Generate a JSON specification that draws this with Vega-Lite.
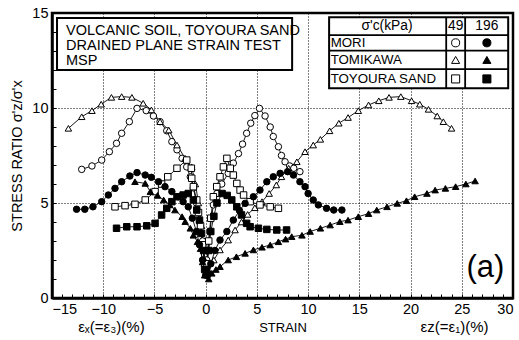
{
  "$schema": "https://vega.github.io/schema/vega-lite/v6.json",
  "width": 461,
  "height": 285,
  "autosize": {"type": "none"},
  "padding": {"left": 52, "top": 13, "right": 6, "bottom": 42},
  "background": "white",
  "config": {
    "view": {"stroke": "black", "strokeWidth": 2.5},
    "font": "Liberation Sans",
    "text": {"font": "Liberation Sans", "color": "black"}
  },
  "datasets": {
    "pts": [
      {"m":"MORI","p":"49","b":"L","i":0,"x":-0.1,"y":2.0},{"m":"MORI","p":"49","b":"L","i":1,"x":-0.3,"y":3.0},{"m":"MORI","p":"49","b":"L","i":2,"x":-0.6,"y":4.0},{"m":"MORI","p":"49","b":"L","i":3,"x":-0.9,"y":5.0},{"m":"MORI","p":"49","b":"L","i":4,"x":-1.2,"y":5.8},{"m":"MORI","p":"49","b":"L","i":5,"x":-1.5,"y":6.38},{"m":"MORI","p":"49","b":"L","i":6,"x":-1.85,"y":6.9},{"m":"MORI","p":"49","b":"L","i":7,"x":-2.3,"y":7.35},{"m":"MORI","p":"49","b":"L","i":8,"x":-2.8,"y":7.8},{"m":"MORI","p":"49","b":"L","i":9,"x":-3.3,"y":8.23},{"m":"MORI","p":"49","b":"L","i":10,"x":-3.8,"y":8.8},{"m":"MORI","p":"49","b":"L","i":11,"x":-4.45,"y":9.28},{"m":"MORI","p":"49","b":"L","i":12,"x":-5.1,"y":9.58},{"m":"MORI","p":"49","b":"L","i":13,"x":-5.8,"y":9.86},{"m":"MORI","p":"49","b":"L","i":14,"x":-6.7,"y":9.98},{"m":"MORI","p":"49","b":"L","i":15,"x":-7.45,"y":9.28},{"m":"MORI","p":"49","b":"L","i":16,"x":-8.2,"y":8.67},{"m":"MORI","p":"49","b":"L","i":17,"x":-8.7,"y":8.14},{"m":"MORI","p":"49","b":"L","i":18,"x":-9.4,"y":7.7},{"m":"MORI","p":"49","b":"L","i":19,"x":-10.15,"y":7.26},{"m":"MORI","p":"49","b":"L","i":20,"x":-11.1,"y":6.95},{"m":"MORI","p":"49","b":"L","i":21,"x":-12.1,"y":6.77},
      {"m":"MORI","p":"49","b":"R","i":0,"x":0.1,"y":2.0},{"m":"MORI","p":"49","b":"R","i":1,"x":0.4,"y":3.5},{"m":"MORI","p":"49","b":"R","i":2,"x":0.75,"y":4.9},{"m":"MORI","p":"49","b":"R","i":3,"x":1.1,"y":5.5},{"m":"MORI","p":"49","b":"R","i":4,"x":1.57,"y":6.0},{"m":"MORI","p":"49","b":"R","i":5,"x":2.2,"y":6.56},{"m":"MORI","p":"49","b":"R","i":6,"x":2.7,"y":7.1},{"m":"MORI","p":"49","b":"R","i":7,"x":3.2,"y":7.6},{"m":"MORI","p":"49","b":"R","i":8,"x":3.6,"y":8.1},{"m":"MORI","p":"49","b":"R","i":9,"x":4.0,"y":8.67},{"m":"MORI","p":"49","b":"R","i":10,"x":4.4,"y":9.2},{"m":"MORI","p":"49","b":"R","i":11,"x":4.8,"y":9.6},{"m":"MORI","p":"49","b":"R","i":12,"x":5.25,"y":9.98},{"m":"MORI","p":"49","b":"R","i":13,"x":5.8,"y":9.58},{"m":"MORI","p":"49","b":"R","i":14,"x":6.3,"y":9.0},{"m":"MORI","p":"49","b":"R","i":15,"x":6.6,"y":8.5},{"m":"MORI","p":"49","b":"R","i":16,"x":7.1,"y":7.96},{"m":"MORI","p":"49","b":"R","i":17,"x":7.4,"y":7.5},{"m":"MORI","p":"49","b":"R","i":18,"x":7.75,"y":7.17},{"m":"MORI","p":"49","b":"R","i":19,"x":8.2,"y":6.95},{"m":"MORI","p":"49","b":"R","i":20,"x":8.6,"y":6.83},{"m":"MORI","p":"49","b":"R","i":21,"x":9.2,"y":6.65},
      {"m":"TOMIKAWA","p":"49","b":"L","i":0,"x":-0.1,"y":2.0},{"m":"TOMIKAWA","p":"49","b":"L","i":1,"x":-0.4,"y":3.8},{"m":"TOMIKAWA","p":"49","b":"L","i":2,"x":-0.7,"y":5.0},{"m":"TOMIKAWA","p":"49","b":"L","i":3,"x":-1.0,"y":6.0},{"m":"TOMIKAWA","p":"49","b":"L","i":4,"x":-1.36,"y":6.9},{"m":"TOMIKAWA","p":"49","b":"L","i":5,"x":-2.0,"y":7.35},{"m":"TOMIKAWA","p":"49","b":"L","i":6,"x":-2.8,"y":8.05},{"m":"TOMIKAWA","p":"49","b":"L","i":7,"x":-3.6,"y":8.84},{"m":"TOMIKAWA","p":"49","b":"L","i":8,"x":-4.45,"y":9.28},{"m":"TOMIKAWA","p":"49","b":"L","i":9,"x":-5.3,"y":9.9},{"m":"TOMIKAWA","p":"49","b":"L","i":10,"x":-6.1,"y":10.25},{"m":"TOMIKAWA","p":"49","b":"L","i":11,"x":-7.2,"y":10.56},{"m":"TOMIKAWA","p":"49","b":"L","i":12,"x":-8.2,"y":10.6},{"m":"TOMIKAWA","p":"49","b":"L","i":13,"x":-9.2,"y":10.56},{"m":"TOMIKAWA","p":"49","b":"L","i":14,"x":-10.2,"y":10.2},{"m":"TOMIKAWA","p":"49","b":"L","i":15,"x":-11.1,"y":9.86},{"m":"TOMIKAWA","p":"49","b":"L","i":16,"x":-12.1,"y":9.54},{"m":"TOMIKAWA","p":"49","b":"L","i":17,"x":-13.4,"y":8.93},
      {"m":"TOMIKAWA","p":"49","b":"R","i":0,"x":0.3,"y":1.4},{"m":"TOMIKAWA","p":"49","b":"R","i":1,"x":0.8,"y":2.0},{"m":"TOMIKAWA","p":"49","b":"R","i":2,"x":1.4,"y":2.53},{"m":"TOMIKAWA","p":"49","b":"R","i":3,"x":2.2,"y":3.05},{"m":"TOMIKAWA","p":"49","b":"R","i":4,"x":2.87,"y":3.58},{"m":"TOMIKAWA","p":"49","b":"R","i":5,"x":3.5,"y":4.0},{"m":"TOMIKAWA","p":"49","b":"R","i":6,"x":4.1,"y":4.4},{"m":"TOMIKAWA","p":"49","b":"R","i":7,"x":4.8,"y":4.75},{"m":"TOMIKAWA","p":"49","b":"R","i":8,"x":5.5,"y":5.07},{"m":"TOMIKAWA","p":"49","b":"R","i":9,"x":6.2,"y":5.5},{"m":"TOMIKAWA","p":"49","b":"R","i":10,"x":6.9,"y":5.95},{"m":"TOMIKAWA","p":"49","b":"R","i":11,"x":7.4,"y":6.38},{"m":"TOMIKAWA","p":"49","b":"R","i":12,"x":8.1,"y":6.83},{"m":"TOMIKAWA","p":"49","b":"R","i":13,"x":8.9,"y":7.17},{"m":"TOMIKAWA","p":"49","b":"R","i":14,"x":9.7,"y":7.7},{"m":"TOMIKAWA","p":"49","b":"R","i":15,"x":10.5,"y":8.05},{"m":"TOMIKAWA","p":"49","b":"R","i":16,"x":11.2,"y":8.35},{"m":"TOMIKAWA","p":"49","b":"R","i":17,"x":12.1,"y":8.8},{"m":"TOMIKAWA","p":"49","b":"R","i":18,"x":13.0,"y":9.2},{"m":"TOMIKAWA","p":"49","b":"R","i":19,"x":13.9,"y":9.5},{"m":"TOMIKAWA","p":"49","b":"R","i":20,"x":14.9,"y":9.86},{"m":"TOMIKAWA","p":"49","b":"R","i":21,"x":15.9,"y":10.16},{"m":"TOMIKAWA","p":"49","b":"R","i":22,"x":16.9,"y":10.38},{"m":"TOMIKAWA","p":"49","b":"R","i":23,"x":17.9,"y":10.56},{"m":"TOMIKAWA","p":"49","b":"R","i":24,"x":19.05,"y":10.6},{"m":"TOMIKAWA","p":"49","b":"R","i":25,"x":20.1,"y":10.38},{"m":"TOMIKAWA","p":"49","b":"R","i":26,"x":20.9,"y":10.2},{"m":"TOMIKAWA","p":"49","b":"R","i":27,"x":21.75,"y":9.93},{"m":"TOMIKAWA","p":"49","b":"R","i":28,"x":22.6,"y":9.58},{"m":"TOMIKAWA","p":"49","b":"R","i":29,"x":23.2,"y":9.28},{"m":"TOMIKAWA","p":"49","b":"R","i":30,"x":24.0,"y":8.93},
      {"m":"TOYOURA SAND","p":"49","b":"L","i":0,"x":-0.1,"y":1.8},{"m":"TOYOURA SAND","p":"49","b":"L","i":1,"x":-0.3,"y":2.8},{"m":"TOYOURA SAND","p":"49","b":"L","i":2,"x":-0.5,"y":3.8},{"m":"TOYOURA SAND","p":"49","b":"L","i":3,"x":-0.7,"y":4.5},{"m":"TOYOURA SAND","p":"49","b":"L","i":4,"x":-0.87,"y":5.16},{"m":"TOYOURA SAND","p":"49","b":"L","i":5,"x":-1.2,"y":5.86},{"m":"TOYOURA SAND","p":"49","b":"L","i":6,"x":-1.36,"y":6.3},{"m":"TOYOURA SAND","p":"49","b":"L","i":7,"x":-1.4,"y":6.83},{"m":"TOYOURA SAND","p":"49","b":"L","i":8,"x":-1.85,"y":7.26},{"m":"TOYOURA SAND","p":"49","b":"L","i":9,"x":-2.8,"y":6.83},{"m":"TOYOURA SAND","p":"49","b":"L","i":10,"x":-3.7,"y":6.38},{"m":"TOYOURA SAND","p":"49","b":"L","i":11,"x":-4.3,"y":6.0},{"m":"TOYOURA SAND","p":"49","b":"L","i":12,"x":-4.94,"y":5.6},{"m":"TOYOURA SAND","p":"49","b":"L","i":13,"x":-5.9,"y":5.16},{"m":"TOYOURA SAND","p":"49","b":"L","i":14,"x":-6.9,"y":4.93},{"m":"TOYOURA SAND","p":"49","b":"L","i":15,"x":-7.87,"y":4.86},{"m":"TOYOURA SAND","p":"49","b":"L","i":16,"x":-8.85,"y":4.8},
      {"m":"TOYOURA SAND","p":"49","b":"R","i":0,"x":0.1,"y":1.8},{"m":"TOYOURA SAND","p":"49","b":"R","i":1,"x":0.3,"y":3.0},{"m":"TOYOURA SAND","p":"49","b":"R","i":2,"x":0.5,"y":4.2},{"m":"TOYOURA SAND","p":"49","b":"R","i":3,"x":0.75,"y":5.33},{"m":"TOYOURA SAND","p":"49","b":"R","i":4,"x":1.08,"y":5.86},{"m":"TOYOURA SAND","p":"49","b":"R","i":5,"x":1.4,"y":6.38},{"m":"TOYOURA SAND","p":"49","b":"R","i":6,"x":1.73,"y":6.9},{"m":"TOYOURA SAND","p":"49","b":"R","i":7,"x":2.07,"y":7.35},{"m":"TOYOURA SAND","p":"49","b":"R","i":8,"x":2.4,"y":6.83},{"m":"TOYOURA SAND","p":"49","b":"R","i":9,"x":2.7,"y":6.47},{"m":"TOYOURA SAND","p":"49","b":"R","i":10,"x":3.04,"y":6.03},{"m":"TOYOURA SAND","p":"49","b":"R","i":11,"x":3.36,"y":5.68},{"m":"TOYOURA SAND","p":"49","b":"R","i":12,"x":3.7,"y":5.42},{"m":"TOYOURA SAND","p":"49","b":"R","i":13,"x":4.34,"y":5.07},{"m":"TOYOURA SAND","p":"49","b":"R","i":14,"x":5.3,"y":4.9},{"m":"TOYOURA SAND","p":"49","b":"R","i":15,"x":6.3,"y":4.8},{"m":"TOYOURA SAND","p":"49","b":"R","i":16,"x":7.1,"y":4.72},
      {"m":"MORI","p":"196","b":"L","i":0,"x":0.0,"y":1.2},{"m":"MORI","p":"196","b":"L","i":1,"x":-0.3,"y":2.0},{"m":"MORI","p":"196","b":"L","i":2,"x":-0.6,"y":2.8},{"m":"MORI","p":"196","b":"L","i":3,"x":-0.9,"y":3.5},{"m":"MORI","p":"196","b":"L","i":4,"x":-1.3,"y":4.2},{"m":"MORI","p":"196","b":"L","i":5,"x":-1.7,"y":4.8},{"m":"MORI","p":"196","b":"L","i":6,"x":-2.2,"y":5.07},{"m":"MORI","p":"196","b":"L","i":7,"x":-2.7,"y":5.33},{"m":"MORI","p":"196","b":"L","i":8,"x":-3.3,"y":5.6},{"m":"MORI","p":"196","b":"L","i":9,"x":-3.97,"y":5.86},{"m":"MORI","p":"196","b":"L","i":10,"x":-4.6,"y":6.12},{"m":"MORI","p":"196","b":"L","i":11,"x":-5.3,"y":6.35},{"m":"MORI","p":"196","b":"L","i":12,"x":-5.9,"y":6.47},{"m":"MORI","p":"196","b":"L","i":13,"x":-6.7,"y":6.6},{"m":"MORI","p":"196","b":"L","i":14,"x":-7.4,"y":6.42},{"m":"MORI","p":"196","b":"L","i":15,"x":-8.2,"y":6.12},{"m":"MORI","p":"196","b":"L","i":16,"x":-8.85,"y":5.77},{"m":"MORI","p":"196","b":"L","i":17,"x":-9.5,"y":5.42},{"m":"MORI","p":"196","b":"L","i":18,"x":-10.15,"y":5.07},{"m":"MORI","p":"196","b":"L","i":19,"x":-11.0,"y":4.8},{"m":"MORI","p":"196","b":"L","i":20,"x":-11.8,"y":4.67},{"m":"MORI","p":"196","b":"L","i":21,"x":-12.6,"y":4.67},
      {"m":"MORI","p":"196","b":"R","i":0,"x":0.2,"y":1.2},{"m":"MORI","p":"196","b":"R","i":1,"x":0.5,"y":1.8},{"m":"MORI","p":"196","b":"R","i":2,"x":0.9,"y":2.5},{"m":"MORI","p":"196","b":"R","i":3,"x":1.4,"y":3.05},{"m":"MORI","p":"196","b":"R","i":4,"x":2.07,"y":3.5},{"m":"MORI","p":"196","b":"R","i":5,"x":2.7,"y":4.1},{"m":"MORI","p":"196","b":"R","i":6,"x":3.3,"y":4.6},{"m":"MORI","p":"196","b":"R","i":7,"x":3.85,"y":4.98},{"m":"MORI","p":"196","b":"R","i":8,"x":4.66,"y":5.33},{"m":"MORI","p":"196","b":"R","i":9,"x":5.3,"y":5.68},{"m":"MORI","p":"196","b":"R","i":10,"x":5.97,"y":6.12},{"m":"MORI","p":"196","b":"R","i":11,"x":6.6,"y":6.38},{"m":"MORI","p":"196","b":"R","i":12,"x":7.27,"y":6.56},{"m":"MORI","p":"196","b":"R","i":13,"x":8.0,"y":6.65},{"m":"MORI","p":"196","b":"R","i":14,"x":8.57,"y":6.47},{"m":"MORI","p":"196","b":"R","i":15,"x":9.2,"y":6.12},{"m":"MORI","p":"196","b":"R","i":16,"x":9.7,"y":5.86},{"m":"MORI","p":"196","b":"R","i":17,"x":10.0,"y":5.5},{"m":"MORI","p":"196","b":"R","i":18,"x":10.5,"y":5.16},{"m":"MORI","p":"196","b":"R","i":19,"x":11.0,"y":4.9},{"m":"MORI","p":"196","b":"R","i":20,"x":11.8,"y":4.72},{"m":"MORI","p":"196","b":"R","i":21,"x":12.5,"y":4.63},{"m":"MORI","p":"196","b":"R","i":22,"x":13.3,"y":4.63},
      {"m":"TOYOURA SAND","p":"196","b":"L","i":0,"x":-0.1,"y":1.5},{"m":"TOYOURA SAND","p":"196","b":"L","i":1,"x":-0.2,"y":2.5},{"m":"TOYOURA SAND","p":"196","b":"L","i":2,"x":-0.4,"y":3.4},{"m":"TOYOURA SAND","p":"196","b":"L","i":3,"x":-0.6,"y":4.1},{"m":"TOYOURA SAND","p":"196","b":"L","i":4,"x":-0.87,"y":4.63},{"m":"TOYOURA SAND","p":"196","b":"L","i":5,"x":-1.2,"y":5.16},{"m":"TOYOURA SAND","p":"196","b":"L","i":6,"x":-1.7,"y":5.5},{"m":"TOYOURA SAND","p":"196","b":"L","i":7,"x":-2.2,"y":5.42},{"m":"TOYOURA SAND","p":"196","b":"L","i":8,"x":-2.8,"y":5.33},{"m":"TOYOURA SAND","p":"196","b":"L","i":9,"x":-3.3,"y":5.07},{"m":"TOYOURA SAND","p":"196","b":"L","i":10,"x":-3.8,"y":4.72},{"m":"TOYOURA SAND","p":"196","b":"L","i":11,"x":-4.3,"y":4.37},{"m":"TOYOURA SAND","p":"196","b":"L","i":12,"x":-4.94,"y":3.93},{"m":"TOYOURA SAND","p":"196","b":"L","i":13,"x":-5.75,"y":3.8},{"m":"TOYOURA SAND","p":"196","b":"L","i":14,"x":-6.7,"y":3.75},{"m":"TOYOURA SAND","p":"196","b":"L","i":15,"x":-7.7,"y":3.75},{"m":"TOYOURA SAND","p":"196","b":"L","i":16,"x":-8.7,"y":3.67},
      {"m":"TOYOURA SAND","p":"196","b":"R","i":0,"x":0.1,"y":1.5},{"m":"TOYOURA SAND","p":"196","b":"R","i":1,"x":0.3,"y":2.5},{"m":"TOYOURA SAND","p":"196","b":"R","i":2,"x":0.5,"y":3.5},{"m":"TOYOURA SAND","p":"196","b":"R","i":3,"x":0.8,"y":4.3},{"m":"TOYOURA SAND","p":"196","b":"R","i":4,"x":1.1,"y":5.0},{"m":"TOYOURA SAND","p":"196","b":"R","i":5,"x":1.6,"y":5.5},{"m":"TOYOURA SAND","p":"196","b":"R","i":6,"x":2.1,"y":5.4},{"m":"TOYOURA SAND","p":"196","b":"R","i":7,"x":2.55,"y":5.16},{"m":"TOYOURA SAND","p":"196","b":"R","i":8,"x":3.04,"y":4.8},{"m":"TOYOURA SAND","p":"196","b":"R","i":9,"x":3.5,"y":4.37},{"m":"TOYOURA SAND","p":"196","b":"R","i":10,"x":4.0,"y":3.93},{"m":"TOYOURA SAND","p":"196","b":"R","i":11,"x":4.34,"y":3.75},{"m":"TOYOURA SAND","p":"196","b":"R","i":12,"x":5.15,"y":3.67},{"m":"TOYOURA SAND","p":"196","b":"R","i":13,"x":5.97,"y":3.61},{"m":"TOYOURA SAND","p":"196","b":"R","i":14,"x":6.94,"y":3.58},{"m":"TOYOURA SAND","p":"196","b":"R","i":15,"x":7.9,"y":3.58},
      {"m":"TOMIKAWA","p":"196","b":"L","i":0,"x":-0.1,"y":1.2},{"m":"TOMIKAWA","p":"196","b":"L","i":1,"x":-0.3,"y":1.9},{"m":"TOMIKAWA","p":"196","b":"L","i":2,"x":-0.5,"y":2.6},{"m":"TOMIKAWA","p":"196","b":"L","i":3,"x":-0.8,"y":2.96},{"m":"TOMIKAWA","p":"196","b":"L","i":4,"x":-1.2,"y":3.3},{"m":"TOMIKAWA","p":"196","b":"L","i":5,"x":-1.5,"y":3.67},{"m":"TOMIKAWA","p":"196","b":"L","i":6,"x":-2.0,"y":4.02},{"m":"TOMIKAWA","p":"196","b":"L","i":7,"x":-2.3,"y":4.28},{"m":"TOMIKAWA","p":"196","b":"L","i":8,"x":-3.0,"y":4.63},{"m":"TOMIKAWA","p":"196","b":"L","i":9,"x":-3.5,"y":4.9},{"m":"TOMIKAWA","p":"196","b":"L","i":10,"x":-4.1,"y":5.16},{"m":"TOMIKAWA","p":"196","b":"L","i":11,"x":-4.7,"y":5.4},{"m":"TOMIKAWA","p":"196","b":"L","i":12,"x":-5.4,"y":5.6},{"m":"TOMIKAWA","p":"196","b":"L","i":13,"x":-5.9,"y":6.03},{"m":"TOMIKAWA","p":"196","b":"L","i":14,"x":-6.9,"y":6.12},
      {"m":"TOMIKAWA","p":"196","b":"R","i":0,"x":0.3,"y":1.0},{"m":"TOMIKAWA","p":"196","b":"R","i":1,"x":0.6,"y":1.3},{"m":"TOMIKAWA","p":"196","b":"R","i":2,"x":1.0,"y":1.5},{"m":"TOMIKAWA","p":"196","b":"R","i":3,"x":1.4,"y":1.65},{"m":"TOMIKAWA","p":"196","b":"R","i":4,"x":2.2,"y":2.0},{"m":"TOMIKAWA","p":"196","b":"R","i":5,"x":3.0,"y":2.17},{"m":"TOMIKAWA","p":"196","b":"R","i":6,"x":3.85,"y":2.35},{"m":"TOMIKAWA","p":"196","b":"R","i":7,"x":4.66,"y":2.53},{"m":"TOMIKAWA","p":"196","b":"R","i":8,"x":5.5,"y":2.67},{"m":"TOMIKAWA","p":"196","b":"R","i":9,"x":6.3,"y":2.79},{"m":"TOMIKAWA","p":"196","b":"R","i":10,"x":7.1,"y":2.96},{"m":"TOMIKAWA","p":"196","b":"R","i":11,"x":7.8,"y":3.1},{"m":"TOMIKAWA","p":"196","b":"R","i":12,"x":8.4,"y":3.23},{"m":"TOMIKAWA","p":"196","b":"R","i":13,"x":9.4,"y":3.3},{"m":"TOMIKAWA","p":"196","b":"R","i":14,"x":10.2,"y":3.5},{"m":"TOMIKAWA","p":"196","b":"R","i":15,"x":11.2,"y":3.67},{"m":"TOMIKAWA","p":"196","b":"R","i":16,"x":12.15,"y":3.84},{"m":"TOMIKAWA","p":"196","b":"R","i":17,"x":13.1,"y":4.02},{"m":"TOMIKAWA","p":"196","b":"R","i":18,"x":13.9,"y":4.1},{"m":"TOMIKAWA","p":"196","b":"R","i":19,"x":14.9,"y":4.28},{"m":"TOMIKAWA","p":"196","b":"R","i":20,"x":15.9,"y":4.44},{"m":"TOMIKAWA","p":"196","b":"R","i":21,"x":16.7,"y":4.63},{"m":"TOMIKAWA","p":"196","b":"R","i":22,"x":17.7,"y":4.8},{"m":"TOMIKAWA","p":"196","b":"R","i":23,"x":18.7,"y":4.98},{"m":"TOMIKAWA","p":"196","b":"R","i":24,"x":19.6,"y":5.12},{"m":"TOMIKAWA","p":"196","b":"R","i":25,"x":20.4,"y":5.33},{"m":"TOMIKAWA","p":"196","b":"R","i":26,"x":21.6,"y":5.5},{"m":"TOMIKAWA","p":"196","b":"R","i":27,"x":22.4,"y":5.68},{"m":"TOMIKAWA","p":"196","b":"R","i":28,"x":23.4,"y":5.77},{"m":"TOMIKAWA","p":"196","b":"R","i":29,"x":24.4,"y":5.86},{"m":"TOMIKAWA","p":"196","b":"R","i":30,"x":25.4,"y":6.0},{"m":"TOMIKAWA","p":"196","b":"R","i":31,"x":26.3,"y":6.16}
    ],
    "boxes": [
      {"x":-14.51,"x2":8.44,"y":14.74,"y2":12.0},
      {"x":12.05,"x2":29.53,"y":14.77,"y2":11.04}
    ],
    "hrules": [
      {"x":12.05,"x2":29.53,"y":13.84},
      {"x":12.05,"x2":29.53,"y":13.02},
      {"x":12.05,"x2":29.53,"y":12.05}
    ],
    "vrules": [
      {"x":23.48,"y":14.77,"y2":11.04},
      {"x":25.33,"y":14.77,"y2":11.04}
    ],
    "lefttext": [
      {"x":-13.63,"y":14.05,"t":"VOLCANIC SOIL, TOYOURA SAND"},
      {"x":-13.63,"y":13.26,"t":"DRAINED PLANE STRAIN TEST"},
      {"x":-13.63,"y":12.47,"t":"MSP"}
    ],
    "tabletext": [
      {"x":12.2,"y":13.43,"t":"MORI"},
      {"x":12.2,"y":12.53,"t":"TOMIKAWA"},
      {"x":12.2,"y":11.53,"t":"TOYOURA SAND"}
    ],
    "centertext": [
      {"x":17.7,"y":14.31,"t":"σ'c(kPa)"},
      {"x":24.4,"y":14.31,"t":"49"},
      {"x":27.45,"y":14.31,"t":"196"}
    ],
    "sym": [
      {"m":"MORI","p":"49","x":24.4,"y":13.43},
      {"m":"MORI","p":"196","x":27.45,"y":13.43},
      {"m":"TOMIKAWA","p":"49","x":24.4,"y":12.53},
      {"m":"TOMIKAWA","p":"196","x":27.45,"y":12.53},
      {"m":"TOYOURA SAND","p":"49","x":24.4,"y":11.53},
      {"m":"TOYOURA SAND","p":"196","x":27.45,"y":11.53}
    ],
    "under": [
      {"x":-9.2,"y":-1.55,"t":"εₓ(=ε₃)(%)"},
      {"x":24.3,"y":-1.55,"t":"εz(=ε₁)(%)"}
    ],
    "panel": [
      {"x":27.3,"y":1.6,"t":"(a)"}
    ]
  },
  "encoding": {
    "x": {
      "field": "x", "type": "quantitative",
      "scale": {"domain": [-15, 30], "nice": false, "zero": false},
      "axis": {
        "values": [-15,-14,-13,-12,-11,-10,-9,-8,-7,-6,-5,-4,-3,-2,-1,0,1,2,3,4,5,6,7,8,9,10,11,12,13,14,15,16,17,18,19,20,21,22,23,24,25,26,27,28,29,30],
        "labelExpr": "datum.value % 5 === 0 ? datum.label : ''",
        "labelOverlap": false,
        "labelFont": "Liberation Sans", "labelFontSize": 14.5, "labelColor": "black", "labelPadding": 8,
        "grid": true, "gridColor": "black", "gridDash": [1, 2], "gridWidth": 1,
        "gridOpacity": {"condition": {"test": "datum.value % 5 === 0", "value": 1}, "value": 0},
        "tickColor": "black", "tickSize": -4, "tickWidth": 1,
        "domainColor": "black", "domainWidth": 2.5,
        "title": "STRAIN", "titleFont": "Liberation Sans", "titleFontSize": 13, "titleFontWeight": "normal", "titleColor": "black", "titlePadding": 6
      }
    },
    "y": {
      "field": "y", "type": "quantitative",
      "scale": {"domain": [0, 15], "nice": false, "zero": false},
      "axis": {
        "values": [0,1,2,3,4,5,6,7,8,9,10,11,12,13,14,15],
        "labelExpr": "datum.value % 5 === 0 ? datum.label : ''",
        "labelOverlap": false,
        "labelFont": "Liberation Sans", "labelFontSize": 14.5, "labelColor": "black", "labelPadding": 8,
        "grid": true, "gridColor": "black", "gridDash": [1, 2], "gridWidth": 1,
        "gridOpacity": {"condition": {"test": "datum.value % 5 === 0", "value": 1}, "value": 0},
        "tickColor": "black", "tickSize": -4, "tickWidth": 1,
        "domainColor": "black", "domainWidth": 2.5,
        "title": "STRESS RATIO σ'z/σ'x", "titleFont": "Liberation Sans", "titleFontSize": 14.5, "titleFontWeight": "normal", "titleColor": "black", "titlePadding": 7
      }
    }
  },
  "layer": [
    {
      "data": {"name": "pts"},
      "mark": {"type": "line", "color": "black", "strokeWidth": 0.9},
      "encoding": {
        "detail": [{"field": "m"}, {"field": "p"}, {"field": "b"}],
        "order": {"field": "i", "type": "quantitative"}
      }
    },
    {
      "data": {"name": "pts"},
      "mark": {"type": "point", "filled": false, "stroke": "black", "strokeWidth": 1, "opacity": 1, "size": 42},
      "encoding": {
        "shape": {"field": "m", "type": "nominal", "scale": {"domain": ["MORI", "TOMIKAWA", "TOYOURA SAND"], "range": ["circle", "triangle-up", "square"]}, "legend": null},
        "fill": {"field": "p", "type": "nominal", "scale": {"domain": ["49", "196"], "range": ["white", "black"]}, "legend": null}
      }
    },
    {
      "data": {"name": "boxes"},
      "mark": {"type": "rect", "fill": "white", "stroke": "black", "strokeWidth": 2},
      "encoding": {"x2": {"field": "x2"}, "y2": {"field": "y2"}}
    },
    {
      "data": {"name": "hrules"},
      "mark": {"type": "rule", "color": "black", "strokeWidth": 1.8},
      "encoding": {"x2": {"field": "x2"}}
    },
    {
      "data": {"name": "vrules"},
      "mark": {"type": "rule", "color": "black", "strokeWidth": 1.8},
      "encoding": {"y2": {"field": "y2"}}
    },
    {
      "data": {"name": "lefttext"},
      "mark": {"type": "text", "align": "left", "baseline": "middle", "fontSize": 14.5, "font": "Liberation Sans"},
      "encoding": {"text": {"field": "t"}}
    },
    {
      "data": {"name": "tabletext"},
      "mark": {"type": "text", "align": "left", "baseline": "middle", "fontSize": 13.3, "font": "Liberation Sans"},
      "encoding": {"text": {"field": "t"}}
    },
    {
      "data": {"name": "centertext"},
      "mark": {"type": "text", "align": "center", "baseline": "middle", "fontSize": 13.8, "font": "Liberation Sans"},
      "encoding": {"text": {"field": "t"}}
    },
    {
      "data": {"name": "sym"},
      "mark": {"type": "point", "filled": false, "stroke": "black", "strokeWidth": 1, "opacity": 1, "size": 65},
      "encoding": {
        "shape": {"field": "m", "type": "nominal", "legend": null},
        "fill": {"field": "p", "type": "nominal", "legend": null}
      }
    },
    {
      "data": {"name": "under"},
      "mark": {"type": "text", "align": "center", "baseline": "middle", "fontSize": 15, "font": "Liberation Sans"},
      "encoding": {"text": {"field": "t"}}
    },
    {
      "data": {"name": "panel"},
      "mark": {"type": "text", "align": "center", "baseline": "middle", "fontSize": 31, "font": "Liberation Sans"},
      "encoding": {"text": {"field": "t"}}
    }
  ]
}
